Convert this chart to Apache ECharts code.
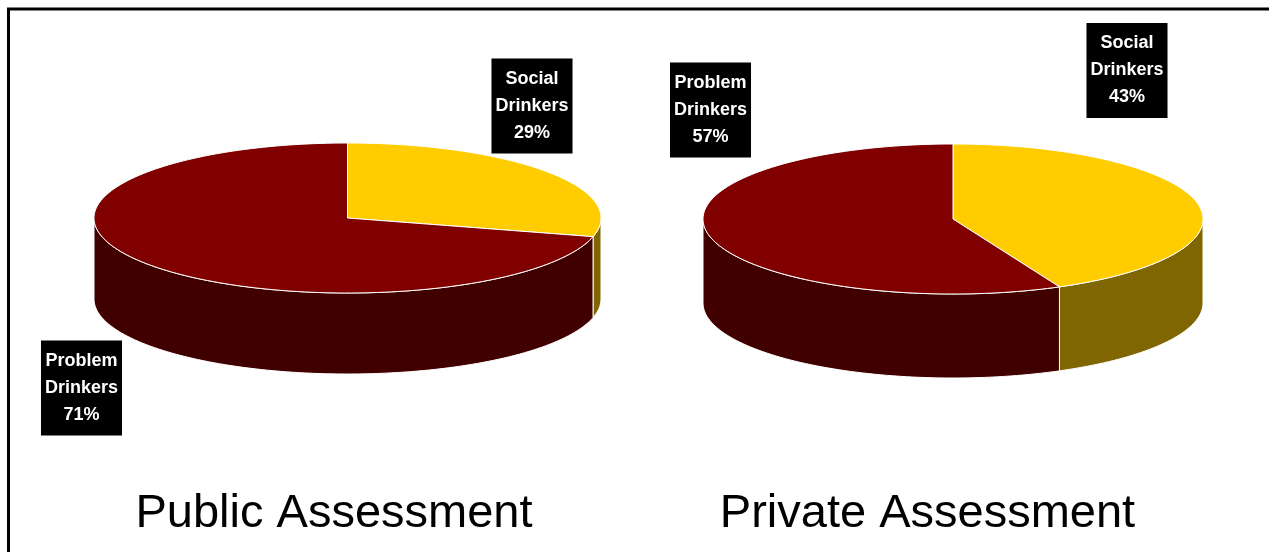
<!DOCTYPE html>
<html><head><meta charset="utf-8">
<script src="https://cdn.jsdelivr.net/npm/echarts@6/dist/echarts.min.js"></script>
<style>html,body{margin:0;padding:0;background:#fff}#c{width:1269px;height:552px}</style>
</head><body><div id="c"></div>
<script>
// ---- data ----
const categories = ['Social Drinkers', 'Problem Drinkers'];
const publicValues = [29, 71];
const privateValues = [43, 57];
const chartTitles = ['Public Assessment', 'Private Assessment'];

// ---- styles ----
const topColors = ['#FFCC00', '#800000'];
const sideColors = ['#806600', '#400000'];
const FONT = '"Liberation Sans", Arial, Helvetica, sans-serif';

function arcPts(cx, cy, rx, ry, a0, a1) {
  const pts = [];
  const n = Math.max(2, Math.ceil(Math.abs(a1 - a0) / 1.5));
  for (let k = 0; k <= n; k++) {
    const t = (a0 + (a1 - a0) * k / n) * Math.PI / 180;
    pts.push([cx + rx * Math.cos(t), cy + ry * Math.sin(t)]);
  }
  return pts;
}

function pieSeries(values, geo, part) {
  const total = values.reduce((a, b) => a + b, 0);
  return {
    type: 'custom', coordinateSystem: 'none', silent: true, animation: false,
    z: part === 'wall' ? 1 : 2,
    data: values.map((v, i) => [v, i]),
    renderItem: function (params, api) {
      const i = params.dataIndex;
      let before = 0;
      for (let k = 0; k < i; k++) before += values[k];
      const start = -90 + 360 * before / total;
      const end = start + 360 * api.value(0) / total;
      const { cx, cy, rx, ry, h } = geo;
      if (part === 'wall') {
        const a = Math.max(start, 0), b = Math.min(end, 180);
        if (b <= a) return null;
        const top = arcPts(cx, cy, rx, ry, a, b);
        const bot = arcPts(cx, cy + h, rx, ry, b, a);
        return {
          type: 'polygon', shape: { points: top.concat(bot) },
          style: { fill: sideColors[i], stroke: '#ffffff', lineWidth: 1 }
        };
      }
      const pts = [[cx, cy]].concat(arcPts(cx, cy, rx, ry, start, end));
      const lp = geo.labels[i];
      const pct = Math.round(api.value(0) / total * 100) + '%';
      return {
        type: 'group', children: [
          { type: 'polygon', shape: { points: pts },
            style: { fill: topColors[i], stroke: '#ffffff', lineWidth: 1 } },
          { type: 'text', x: lp[0], y: lp[1],
            style: { text: categories[i].replace(' ', '\n') + '\n' + pct,
              fill: '#ffffff', font: 'bold 18px ' + FONT, align: 'center', verticalAlign: 'middle',
              lineHeight: 27, backgroundColor: '#000000', padding: [7, 4] } }
        ]
      };
    }
  };
}

const geoL = { cx: 347.5, cy: 218, rx: 253.5, ry: 75, h: 81, labels: [[532, 106], [81.5, 388]] };
const geoR = { cx: 953, cy: 219, rx: 250, ry: 75, h: 84, labels: [[1127, 70.5], [710.5, 110]] };

const chart = echarts.init(document.getElementById('c'), null, { renderer: 'canvas' });
chart.setOption({
  backgroundColor: '#ffffff',
  animation: false,
  graphic: [
    { type: 'rect', shape: { x: 8.5, y: 9, width: 1400, height: 700 },
      style: { fill: 'none', stroke: '#000', lineWidth: 3 }, z: 0 },
    { type: 'text', x: 334, y: 514, style: { text: chartTitles[0], font: '47px ' + FONT,
      fill: '#000', align: 'center', verticalAlign: 'middle' } },
    { type: 'text', x: 927.5, y: 514, style: { text: chartTitles[1], font: '47px ' + FONT,
      fill: '#000', align: 'center', verticalAlign: 'middle' } }
  ],
  series: [
    pieSeries(publicValues, geoL, 'wall'),
    pieSeries(publicValues, geoL, 'top'),
    pieSeries(privateValues, geoR, 'wall'),
    pieSeries(privateValues, geoR, 'top')
  ]
});
</script></body></html>
